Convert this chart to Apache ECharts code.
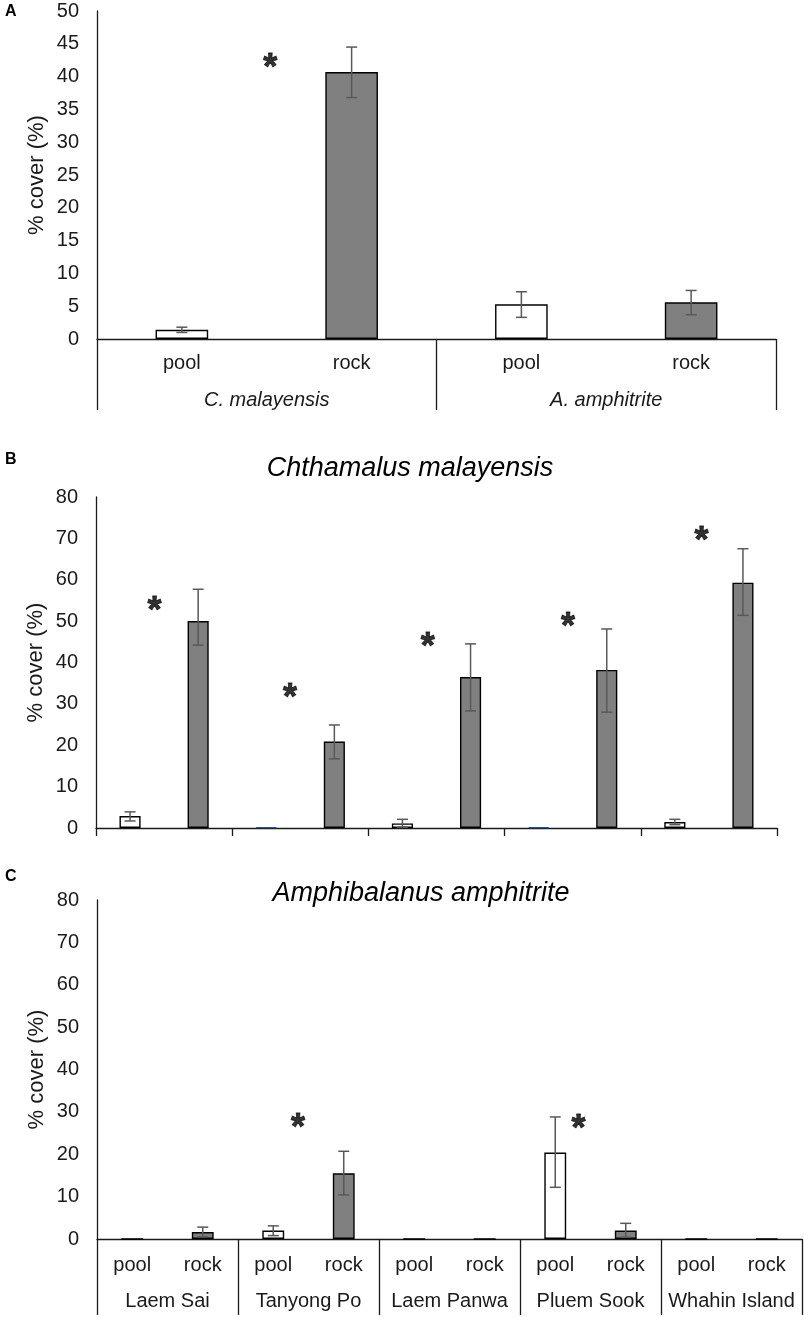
<!DOCTYPE html>
<html>
<head>
    <meta charset="utf-8">
    <title>ECharts</title>
    <script type="text/javascript" src="https://cdn.jsdelivr.net/npm/echarts@6.0.0/dist/echarts.min.js"></script>
    <style>
        body { margin: 0; background: #fff; }
    </style>
</head>
<body>
<div id="main" style="width: 804px;height:1317px;"></div>
<script type="text/javascript">
    // ---- data ----
    // panel A
    var aCats = ['pool', 'rock', 'pool', 'rock'];
    var aGroups = ['C. malayensis', 'A. amphitrite'];
    var aMean = [1.4, 40.7, 5.3, 5.6];
    var aLow = [1.0, 36.8, 3.3, 3.7];
    var aHigh = [1.8, 44.5, 7.2, 7.4];
    var aStars = [[0.52, 42.2]];          // [category position, % cover]

    // panel B / C share the sites
    var sites = ['Laem Sai', 'Tanyong Po', 'Laem Panwa', 'Pluem Sook', 'Whahin Island'];
    var habitats = ['pool', 'rock', 'pool', 'rock', 'pool', 'rock', 'pool', 'rock', 'pool', 'rock'];

    // panel B: Chthamalus malayensis
    var bMean = [2.9, 50.0, 0.2, 20.9, 1.1, 36.5, 0.2, 38.2, 1.45, 59.3];
    var bLow = [1.7, 44.2, null, 16.7, 0.2, 28.3, null, 28.0, 0.8, 51.4];
    var bHigh = [3.9, 57.7, null, 24.9, 2.1, 44.5, null, 48.1, 2.1, 67.5];
    var bStars = [[0.36, 53.9], [2.35, 32.9], [4.37, 45.2], [6.43, 50.0], [8.39, 70.8]];

    // panel C: Amphibalanus amphitrite
    var cMean = [0, 1.65, 2.0, 15.5, 0, 0, 20.4, 2.0, 0, 0];
    var cLow = [null, 0.5, 0.8, 10.4, null, null, 12.2, 0.4, null, null];
    var cHigh = [null, 2.8, 3.1, 20.7, null, null, 28.8, 3.7, null, null];
    var cStars = [[2.35, 27.5], [6.33, 27.3]];

    var FONT = "'Liberation Sans', Arial, sans-serif";
    var INK = '#1a1a1a';

    var myChart = echarts.init(document.getElementById('main'));

    var panels = [
        {box: {left: 97, right: 28, top: 11, bottom: 978}, cats: aCats, groups: aGroups,
         mean: aMean, low: aLow, high: aHigh, stars: aStars, yMax: 50, yStep: 5,
         catLabels: true, catMargin: 14, groupLabels: true, groupItalic: true, groupMargin: 51, tickLen: 71},
        {box: {left: 96, right: 27, top: 497, bottom: 489}, cats: habitats, groups: sites,
         mean: bMean, low: bLow, high: bHigh, stars: bStars, yMax: 80, yStep: 10,
         catLabels: false, catMargin: 14, groupLabels: false, groupMargin: 50, tickLen: 8},
        {box: {left: 97, right: 2, top: 900, bottom: 78}, cats: habitats, groups: sites,
         mean: cMean, low: cLow, high: cHigh, stars: cStars, yMax: 80, yStep: 10,
         catLabels: true, catMargin: 16, groupLabels: true, groupItalic: false, groupMargin: 52, tickLen: 76}
    ];

    function errorBar(params, api) {
        var x = api.value(0);
        var p1 = api.coord([x, api.value(1)]);
        var p2 = api.coord([x, api.value(2)]);
        var w = 5.5;
        var st = {stroke: '#595959', lineWidth: 1.5};
        return {
            type: 'group',
            children: [
                {type: 'line', shape: {x1: p1[0], y1: p1[1], x2: p2[0], y2: p2[1]}, style: st},
                {type: 'line', shape: {x1: p1[0] - w, y1: p1[1], x2: p1[0] + w, y2: p1[1]}, style: st},
                {type: 'line', shape: {x1: p2[0] - w, y1: p2[1], x2: p2[0] + w, y2: p2[1]}, style: st}
            ]
        };
    }

    var grid = [], xAxis = [], yAxis = [], series = [];

    panels.forEach(function (p, k) {
        grid.push(Object.assign({containLabel: false}, p.box));
        grid.push(Object.assign({containLabel: false}, p.box));

        // bars axis
        xAxis.push({
            type: 'category', gridIndex: 2 * k, position: 'bottom', data: p.cats,
            axisLine: {show: true, onZero: false, lineStyle: {color: INK, width: 1.3}},
            axisTick: {show: false},
            axisLabel: {show: p.catLabels, interval: 0, margin: p.catMargin, color: INK, fontSize: 20, fontFamily: FONT}
        });
        // hidden value axis for the asterisks
        xAxis.push({
            type: 'value', gridIndex: 2 * k, position: 'top', show: false,
            min: -0.5, max: p.cats.length - 0.5
        });
        // group axis (site / species)
        xAxis.push({
            type: 'category', gridIndex: 2 * k + 1, position: 'bottom', data: p.groups,
            axisLine: {show: false, onZero: false},
            axisTick: {show: true, length: p.tickLen, lineStyle: {color: INK, width: 1.3}},
            axisLabel: {show: p.groupLabels, interval: 0, margin: p.groupMargin, color: INK, fontSize: 20,
                fontFamily: FONT, fontStyle: p.groupItalic ? 'italic' : 'normal'}
        });

        yAxis.push({
            type: 'value', gridIndex: 2 * k, min: 0, max: p.yMax, interval: p.yStep,
            name: '% cover (%)', nameLocation: 'middle', nameGap: 49, nameMoveOverlap: false,
            nameTextStyle: {color: INK, fontSize: 22, fontFamily: FONT},
            axisLine: {show: true, onZero: false, lineStyle: {color: INK, width: 1.3}},
            axisTick: {show: false},
            splitLine: {show: false},
            axisLabel: {color: INK, fontSize: 20, fontFamily: FONT, margin: 18}
        });
        yAxis.push({type: 'value', gridIndex: 2 * k + 1, min: 0, max: 1, show: false});

        series.push({
            type: 'bar', xAxisIndex: 3 * k, yAxisIndex: 2 * k, barWidth: '31%',
            data: p.mean.map(function (v, i) {
                var pool = p.cats[i] === 'pool';
                return {
                    value: v,
                    itemStyle: {
                        color: pool ? '#ffffff' : '#808080',
                        borderColor: (pool && v > 0 && v < 0.5) ? '#2b4f96' : '#000',
                        borderWidth: 1.4
                    }
                };
            }),
            silent: true
        });

        var errData = [];
        p.mean.forEach(function (v, i) {
            if (p.low[i] != null) errData.push([i, p.low[i], p.high[i]]);
        });
        series.push({
            type: 'custom', xAxisIndex: 3 * k, yAxisIndex: 2 * k,
            renderItem: errorBar, data: errData, z: 5, silent: true
        });

        series.push({
            type: 'scatter', xAxisIndex: 3 * k + 1, yAxisIndex: 2 * k,
            data: p.stars, symbolSize: 1, itemStyle: {color: 'transparent'},
            label: {show: true, position: 'inside', formatter: '*', color: '#000',
                textBorderColor: '#000', textBorderWidth: 0.8,
                fontSize: 36, fontWeight: 'bold', fontFamily: FONT, offset: [0, 7]},
            silent: true
        });
    });

    var option = {
        animation: false,
        backgroundColor: '#fff',
        grid: grid,
        xAxis: xAxis,
        yAxis: yAxis,
        series: series,
        graphic: [
            {type: 'text', left: 5, top: 4, style: {text: 'A', fill: '#000', font: 'bold 16px ' + FONT}},
            {type: 'text', left: 5, top: 452, style: {text: 'B', fill: '#000', font: 'bold 16px ' + FONT}},
            {type: 'text', left: 5, top: 869, style: {text: 'C', fill: '#000', font: 'bold 16px ' + FONT}},
            {type: 'text', x: 410, y: 468, style: {text: 'Chthamalus malayensis', fill: '#000',
                font: 'italic 27px ' + FONT, textAlign: 'center', textVerticalAlign: 'middle'}},
            {type: 'text', x: 421, y: 893, style: {text: 'Amphibalanus amphitrite', fill: '#000',
                font: 'italic 27px ' + FONT, textAlign: 'center', textVerticalAlign: 'middle'}}
        ]
    };
    myChart.setOption(option);
</script>
</body>
</html>
